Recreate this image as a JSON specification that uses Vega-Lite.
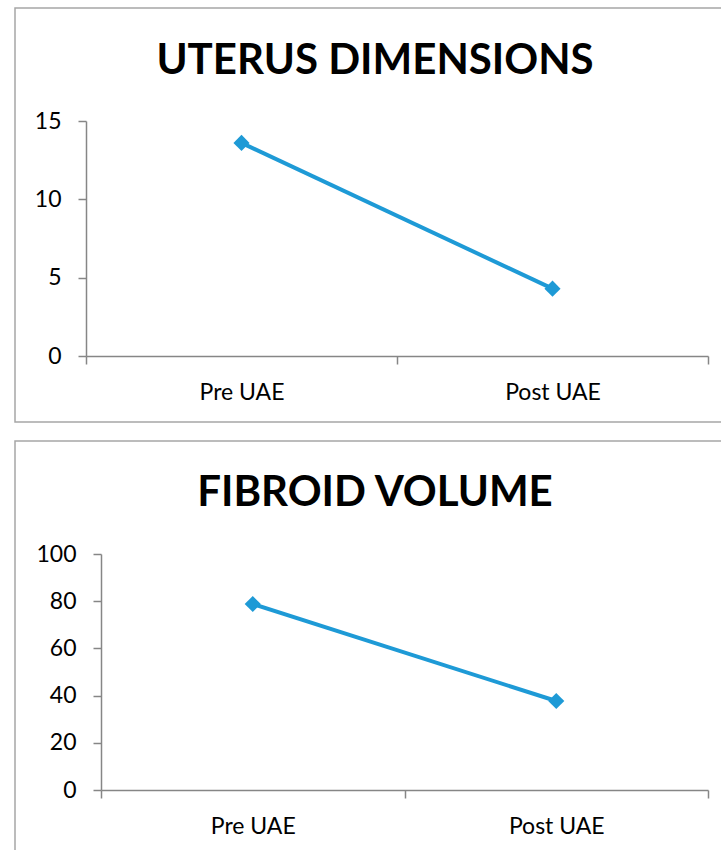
{
  "$schema": "https://vega.github.io/schema/vega-lite/v6.json",
  "padding": {"left": 14, "top": 7, "right": 0, "bottom": 0},
  "autosize": {"type": "pad"},
  "background": "white",
  "spacing": 17,
  "config": {
    "font": "Lato",
    "view": {"stroke": "#a6a6a6", "strokeWidth": 1.5},
    "title": {"font": "Lato", "fontWeight": "bold", "fontSize": 42, "color": "#000000", "anchor": "middle"},
    "axis": {
      "labelFont": "Lato",
      "labelFontSize": 23,
      "labelColor": "#000000",
      "domainColor": "#868686",
      "domainWidth": 1.5,
      "tickColor": "#868686",
      "tickWidth": 1.5,
      "tickSize": 8,
      "labelPadding": 17,
      "grid": false,
      "title": null
    }
  },
  "vconcat": [
    {
      "width": 720,
      "height": 414,
      "title": {"text": "UTERUS DIMENSIONS", "offset": -75},
      "data": {"values": [
        {"stage": "Pre UAE", "value": 13.6},
        {"stage": "Post UAE", "value": 4.3}
      ]},
      "encoding": {
        "x": {
          "field": "stage", "type": "nominal", "sort": ["Pre UAE", "Post UAE"],
          "scale": {"type": "band", "range": [71, 693], "paddingInner": 0, "paddingOuter": 0},
          "axis": {"labelAngle": 0, "offset": -66, "tickBand": "extent"}
        },
        "y": {
          "field": "value", "type": "quantitative",
          "scale": {"domain": [0, 15], "range": [348, 113]},
          "axis": {"values": [0, 5, 10, 15], "offset": -71}
        }
      },
      "layer": [
        {"mark": {"type": "line", "color": "#1e9ad6", "strokeWidth": 4}},
        {"mark": {"type": "point", "shape": "diamond", "filled": true, "size": 260, "color": "#1e9ad6", "opacity": 1}}
      ]
    },
    {
      "width": 720,
      "height": 420,
      "title": {"text": "FIBROID VOLUME", "offset": -74},
      "data": {"values": [
        {"stage": "Pre UAE", "value": 78.8},
        {"stage": "Post UAE", "value": 37.7}
      ]},
      "encoding": {
        "x": {
          "field": "stage", "type": "nominal", "sort": ["Pre UAE", "Post UAE"],
          "scale": {"type": "band", "range": [86, 693], "paddingInner": 0, "paddingOuter": 0},
          "axis": {"labelAngle": 0, "offset": -71, "tickBand": "extent"}
        },
        "y": {
          "field": "value", "type": "quantitative",
          "scale": {"domain": [0, 100], "range": [349, 113]},
          "axis": {"values": [0, 20, 40, 60, 80, 100], "offset": -86}
        }
      },
      "layer": [
        {"mark": {"type": "line", "color": "#1e9ad6", "strokeWidth": 4}},
        {"mark": {"type": "point", "shape": "diamond", "filled": true, "size": 260, "color": "#1e9ad6", "opacity": 1}}
      ]
    }
  ]
}
